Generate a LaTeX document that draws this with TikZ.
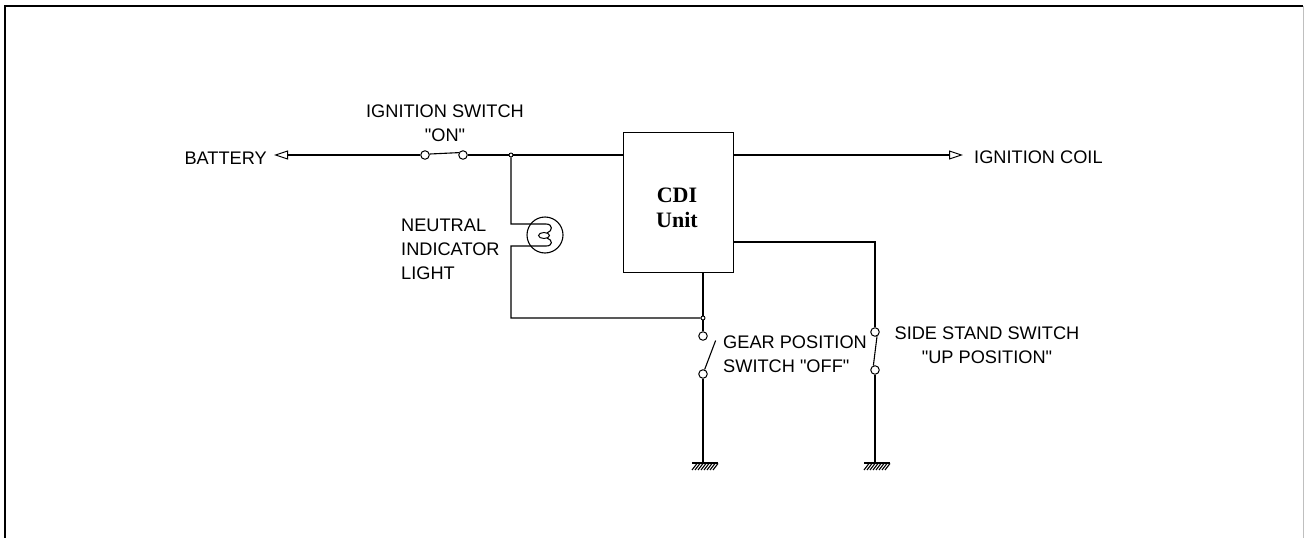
\documentclass[tikz,border=0pt]{standalone}
\usepackage{fontspec}
\setmainfont{Liberation Sans}[Ligatures=TeXOff]
\newfontfamily\serifb{Liberation Serif}
\usetikzlibrary{arrows.meta}
\begin{document}
\begin{tikzpicture}[x=1pt,y=-1pt,
  wire/.style={line width=1.1pt},
  term/.style={circle,draw,line width=1pt,fill=white,minimum size=8.5pt,inner sep=0pt},
  jn/.style={circle,draw,line width=0.9pt,fill=white,minimum size=4pt,inner sep=0pt},
  lbl/.style={inner sep=0pt,font=\fontsize{18.2}{24}\selectfont},
  tip/.style={-{Triangle[open,length=14pt,width=9pt,line width=1pt]}},
  ground/.pic={
    \draw[line width=1.3pt] (-11,0) -- (15,0);
    \foreach \h in {-11,-8,...,10} {\draw[line width=1.1pt] (\h,7) -- (\h+5,0.5);}
  }]
\useasboundingbox (0,0) rectangle (1304,538);
% frame
\draw[line width=1.5pt] (5,538) -- (5,6) -- (1303,6);
\draw[gray!50,line width=1pt] (1303,6) -- (1303,538);

% labels (base anchor = baseline of last line)
\node[lbl,anchor=base east] (bat) at (267,164) {BATTERY};
\node[lbl,anchor=base,align=center] (iswl) at (445,141) {IGNITION SWITCH\\"ON"};
\node[lbl,anchor=base west] (coill) at (974,163) {IGNITION COIL};
\node[lbl,anchor=base west,align=left] (neutl) at (401,279) {NEUTRAL\\INDICATOR\\LIGHT};
\node[lbl,anchor=base west,align=left] (gearl) at (723,372) {GEAR POSITION\\SWITCH "OFF"};
\node[lbl,anchor=base,align=center] (sidel) at (987,363) {SIDE STAND SWITCH\\"UP POSITION"};

% CDI unit
\node[draw,line width=1.1pt,minimum width=110pt,minimum height=140pt,anchor=north west,inner sep=0pt] (cdi) at (623,132) {};
\node[font=\serifb\bfseries\fontsize{22}{25}\selectfont,align=center,anchor=base,inner sep=0pt] (cdit) at (677,227) {CDI\\Unit};

% coordinates
\coordinate (batarr) at (274,155);
\coordinate (coilarr) at (963,155);
\coordinate (cdiin) at (623,155);
\coordinate (cdiout) at (733,155);
\coordinate (cdiss) at (733,242);
\coordinate (cdibot) at (703,272);
\coordinate (gnd1) at (703,463);
\coordinate (gnd2) at (875,463);

% terminals and junctions
\node[term] (s1a) at (425,155) {};
\node[term] (s1b) at (463,155) {};
\node[jn] (j1) at (511,155) {};
\node[jn] (j2) at (703,318) {};
\node[term] (g1) at (703,336) {};
\node[term] (g2) at (703,374) {};
\node[term] (ss1) at (875,332) {};
\node[term] (ss2) at (875,370) {};
\node[circle,draw,line width=1.1pt,minimum size=36pt,inner sep=0pt] (lamp) at (545,235) {};

% wires
\draw[wire,tip] (s1a) -- (batarr);
\draw[wire] (s1a.12) -- (s1b.150);
\draw[wire] (s1b) -- (j1);
\draw[wire] (j1) -- (cdiin);
\draw[wire,tip] (cdiout) -- (coilarr);
% neutral lamp
\draw[wire] (j1) |- (546,224) .. controls (553,224) and (553,231) .. (547,233);
\draw[line width=1pt] (544,235.5) ellipse [x radius=5.5, y radius=3];
\draw[wire] (547,238) .. controls (553,240) and (553,246) .. (546,246) -- (511,246) |- (j2);
% gear position switch
\draw[wire] (cdibot) -- (j2);
\draw[wire] (j2) -- (g1);
\draw[wire] (g2.70) -- ++(11,-29);
\draw[wire] (g2) -- (gnd1);
\pic at (gnd1) {ground};
% side stand switch
\draw[wire] (cdiss) -| (ss1);
\draw[wire] (ss1.-65) -- (ss2.110);
\draw[wire] (ss2) -- (gnd2);
\pic at (gnd2) {ground};
\end{tikzpicture}
\end{document}
